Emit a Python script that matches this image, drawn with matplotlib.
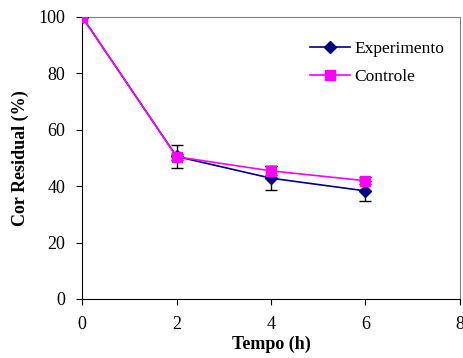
import matplotlib
matplotlib.use('Agg')
import matplotlib.pyplot as plt
from matplotlib.lines import Line2D

plt.rcParams['font.family'] = ['Liberation Serif', 'DejaVu Serif']

# data
tempo = [0, 2, 4, 6]
experimento = [100, 50.5, 42.8, 38.3]
experimento_err = [0, 4.0, 4.2, 3.5]
controle = [100, 50.4, 45.4, 41.9]
controle_err = [0, 1.0, 1.6, 1.3]

fig = plt.figure(figsize=(4.64, 3.58), dpi=100)
ax = fig.add_axes([0.177, 0.165, 0.814, 0.788])

ax.errorbar(tempo, experimento, yerr=experimento_err, color='#000080', ecolor='black',
            marker='D', markersize=6, linewidth=1.2, elinewidth=1, capsize=4, zorder=3)
ax.errorbar(tempo, controle, yerr=controle_err, color='#ff00ff', ecolor='black',
            marker='s', markersize=7, linewidth=1.2, elinewidth=1, capsize=4, zorder=4)

ax.set_xlim(0, 8)
ax.set_ylim(0, 100)
ax.set_xticks([0, 2, 4, 6, 8])
ax.set_yticks([0, 20, 40, 60, 80, 100])
ax.tick_params(direction='out', length=4, pad=8, labelsize=13, top=False, right=False)
for side in ['top', 'right']:
    ax.spines[side].set_color('#808080')
for side in ['left', 'bottom']:
    ax.spines[side].set_color('black')

ax.set_xlabel('Tempo (h)', fontsize=13, fontweight='bold', labelpad=2)
ax.set_ylabel('Cor Residual (%)', fontsize=13, fontweight='bold', labelpad=7)

# legend without the error bar glyphs
handles = [Line2D([], [], color='#000080', marker='D', markersize=6, linewidth=1.2),
           Line2D([], [], color='#ff00ff', marker='s', markersize=7, linewidth=1.2)]
ax.legend(handles, ['Experimento', 'Controle'], loc='upper right',
          bbox_to_anchor=(1.0, 0.97), frameon=False, fontsize=12.5,
          handlelength=2.3, handletextpad=0.25, labelspacing=0.7)

fig.savefig('out.png', dpi=100)
